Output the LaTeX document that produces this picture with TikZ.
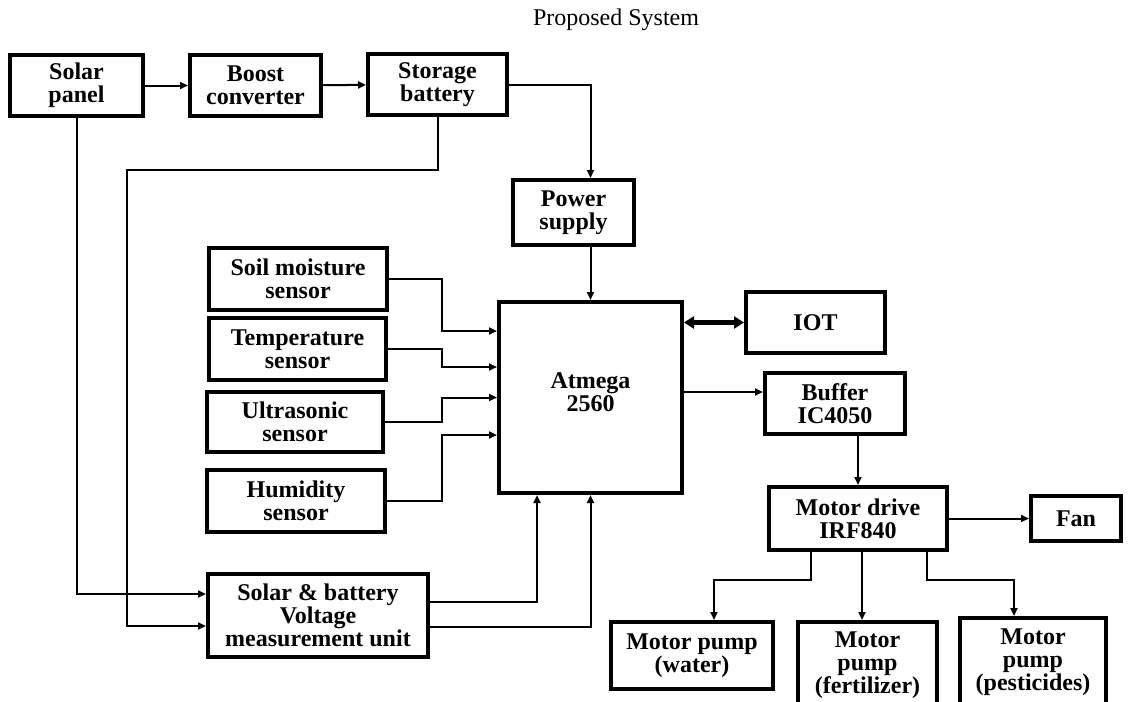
\documentclass[tikz,border=0pt]{standalone}
\usepackage{fontspec}
\setmainfont{Liberation Serif}
\usetikzlibrary{arrows.meta,positioning,shapes}

\begin{document}
\begin{tikzpicture}[x=0.5pt,y=-0.5pt,
  blk/.style={draw,line width=2pt,align=center,inner sep=0pt,
    font=\bfseries\fontsize{12}{11.5}\selectfont},
  arr/.style={-{Triangle[length=4pt,width=3.5pt]},line width=1pt},
  ln/.style={line width=1pt},
  dbl/.style={{Triangle[length=5pt,width=6pt]}-{Triangle[length=5pt,width=6pt]},line width=2.5pt}]
\useasboundingbox (0,0) rectangle (1131,702);
\node[font=\fontsize{12}{14}\selectfont] (ttl) at (616,20) {Proposed System};
\node[blk,minimum width=66.5pt,minimum height=30.5pt] (sol) at (76.5,85.5) {Solar\\panel};
\node[blk,minimum width=65.5pt,minimum height=30.5pt] (bst) at (255.5,85.5) {Boost\\converter};
\node[blk,minimum width=69.5pt,minimum height=30.5pt] (bat) at (437.5,84.5) {Storage\\battery};
\node[blk,minimum width=60.5pt,minimum height=32.5pt] (pwr) at (573.5,212.5) {Power\\supply};
\node[blk,minimum width=91.5pt,minimum height=95.5pt] (mcu) at (590.5,397.5) {Atmega\\2560\\[-6.5pt]};
\node[blk,minimum width=69.5pt,minimum height=30.5pt] (iot) at (815.5,322.5) {IOT};
\node[blk,minimum width=70pt,minimum height=30.5pt] (buf) at (835,403.5) {Buffer\\IC4050};
\node[blk,minimum width=89pt,minimum height=31.5pt] (drv) at (858,518.5) {Motor drive\\IRF840};
\node[blk,minimum width=45pt,minimum height=22.5pt] (fan) at (1076,518.5) {Fan};
\node[blk,minimum width=81pt,minimum height=33.5pt] (pw) at (692,655.5) {Motor pump\\(water)};
\node[blk,minimum width=69.5pt,minimum height=43pt] (pf) at (867.5,665) {Motor\\pump\\(fertilizer)};
\node[blk,minimum width=73pt,minimum height=44pt] (pp) at (1033,662) {Motor\\pump\\(pesticides)};
\node[blk,minimum width=89pt,minimum height=31pt] (soil) at (298,279) {Soil moisture\\sensor};
\node[blk,minimum width=88.5pt,minimum height=31pt] (temp) at (297.5,349) {Temperature\\sensor};
\node[blk,minimum width=88pt,minimum height=30pt] (ultra) at (295,422) {Ultrasonic\\sensor};
\node[blk,minimum width=89pt,minimum height=31pt] (hum) at (296,501) {Humidity\\sensor};
\node[blk,minimum width=110pt,minimum height=41.5pt] (vmu) at (318,615.5) {Solar \& battery\\Voltage\\measurement unit};
% bus and helper points
\coordinate (bus) at (442,0);
\coordinate (bufin) at ([yshift=5.75pt]buf.west);
% power path
\draw[arr] (sol) -- (bst);
\draw[arr] (bst) -- (bat);
\draw[arr] (bat.east) -| (pwr.north -| mcu.north);
\draw[arr] (pwr.south -| mcu.north) -- (mcu.north);
\draw[arr] (sol.south) |- ([yshift=10.75pt]vmu.west);
\draw[arr] (bat.south) |- (127,170) |- ([yshift=-5.25pt]vmu.west);
% sensors
\draw[arr] (soil.east) -- (soil.east -| bus) |- ([yshift=33.25pt]mcu.west);
\draw[arr] (temp.east) -- (temp.east -| bus) |- ([yshift=15.25pt]mcu.west);
\draw[arr] (ultra.east) -- (ultra.east -| bus) |- (mcu.west);
\draw[arr] (hum.east) -- (hum.east -| bus) |- ([yshift=-18.75pt]mcu.west);
\draw[arr] ([yshift=6.75pt]vmu.east) -| ([xshift=-26.75pt]mcu.south);
\draw[arr] ([yshift=-5.75pt]vmu.east) -| (mcu.south);
% outputs
\draw[dbl] (mcu.east |- iot.west) -- (iot.west);
\draw[arr] (bufin -| mcu.east) -- (bufin);
\draw[arr] (buf.south -| drv.north) -- (drv.north);
\draw[arr] (drv) -- (fan);
\draw[arr] ([xshift=-23.5pt]drv.south) -- ++(0,28) -| ([xshift=11pt]pw.north);
\draw[arr] ([xshift=2pt]drv.south) -- ([xshift=2pt]drv.south |- pf.north);
\draw[arr] ([xshift=34.5pt]drv.south) -- ++(0,28) -| ([xshift=-9.5pt]pp.north);
\end{tikzpicture}
\end{document}
